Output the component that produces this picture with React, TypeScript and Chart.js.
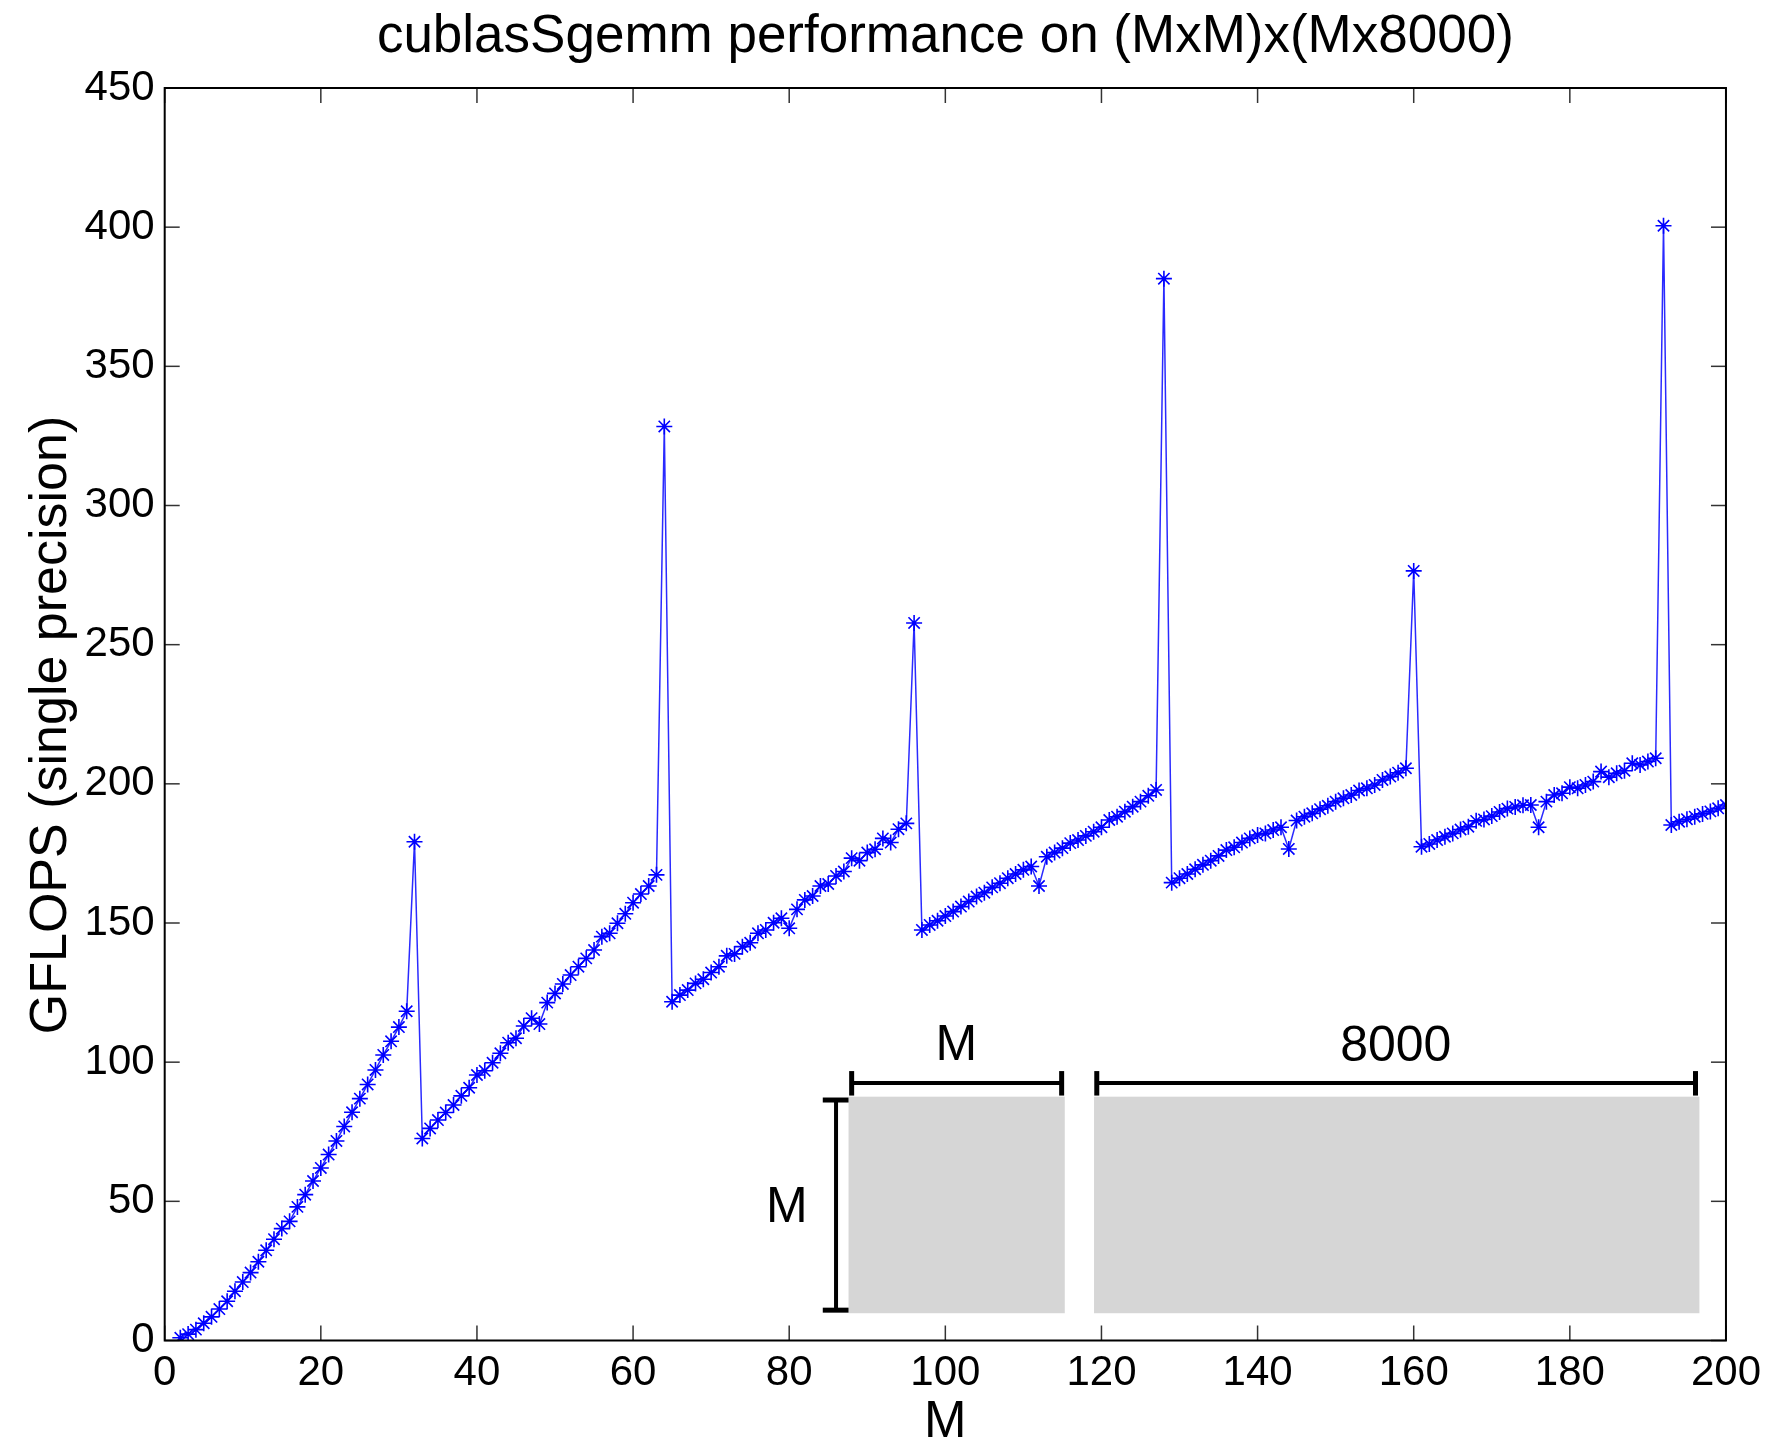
import React, { useEffect, useRef } from "react";
import { Chart, registerables } from "chart.js";

Chart.register(...registerables);

const TITLE = "cublasSgemm performance on (MxM)x(Mx8000)";
const X_LABEL = "M";
const Y_LABEL = "GFLOPS (single precision)";

// Matrix size M (x axis)
const mValues = [
  2, 3, 4, 5, 6, 7, 8, 9, 10, 11, 12, 13, 14, 15, 16, 17, 18, 19, 20,
  21, 22, 23, 24, 25, 26, 27, 28, 29, 30, 31, 32, 33, 34, 35, 36, 37, 38, 39, 40,
  41, 42, 43, 44, 45, 46, 47, 48, 49, 50, 51, 52, 53, 54, 55, 56, 57, 58, 59, 60,
  61, 62, 63, 64, 65, 66, 67, 68, 69, 70, 71, 72, 73, 74, 75, 76, 77, 78, 79, 80,
  81, 82, 83, 84, 85, 86, 87, 88, 89, 90, 91, 92, 93, 94, 95, 96, 97, 98, 99, 100,
  101, 102, 103, 104, 105, 106, 107, 108, 109, 110, 111, 112, 113, 114, 115, 116, 117, 118, 119, 120,
  121, 122, 123, 124, 125, 126, 127, 128, 129, 130, 131, 132, 133, 134, 135, 136, 137, 138, 139, 140,
  141, 142, 143, 144, 145, 146, 147, 148, 149, 150, 151, 152, 153, 154, 155, 156, 157, 158, 159, 160,
  161, 162, 163, 164, 165, 166, 167, 168, 169, 170, 171, 172, 173, 174, 175, 176, 177, 178, 179, 180,
  181, 182, 183, 184, 185, 186, 187, 188, 189, 190, 191, 192, 193, 194, 195, 196, 197, 198, 199, 200,
];

// GFLOPS (single precision), one value per M above
const gflops = [
  // M 2..16
  1, 2.3, 3.9, 6.2, 8.5, 11.3, 14.1, 17.7, 21, 24.4, 28.3, 32.4, 36.4, 40.2, 42.8,
  // M 17..31
  48, 52.4, 57.3, 62, 66.8, 71.7, 76.9, 82, 86.9, 92, 97.2, 102.6, 107.5, 112.6, 118.3,
  // M 32
  179.2,
  // M 33..63
  72.6, 76.2, 79.2, 81.9, 84.6, 87.9, 90.8, 95.4, 96.9, 99.8, 103.2, 107, 108.6, 113, 115.8,
  113.7, 121.4, 124.7, 128.1, 131.3, 134.3, 137.3, 140.3, 145.1, 146.3, 149.9, 153.3, 157.3,
  160.4, 163.3, 167.3,
  // M 64
  328.4,
  // M 65..95
  121.7, 124.1, 125.9, 128.3, 129.8, 132.2, 134.3, 138.2, 138.9, 141.5, 142.9, 146.3, 147.5,
  150.1, 151.7, 148.1, 154.9, 158.3, 159.7, 163.3, 164, 166.9, 168.5, 173.3, 172.4, 175.3,
  176.5, 180.4, 178.9, 183.7, 185.8,
  // M 96
  257.8,
  // M 97..111
  147.5, 149.3, 150.8, 152.5, 154.1, 155.9, 157.7, 159.5, 160.9, 162.8, 164.3, 166.1, 167.6,
  169.1, 170.3,
  // M 112
  163.3,
  // M 113..127
  173.8, 175.3, 176.9, 178.7, 179.8, 181.3, 182.8, 184.4, 187, 188.2, 190, 191.8, 193.6,
  195.7, 197.8,
  // M 128
  381.5,
  // M 129..143
  164.5, 166.1, 167.6, 169.3, 170.9, 172.4, 174.1, 176.2, 177.2, 178.9, 180.4, 181.6, 182.2,
  183.4, 184.4,
  // M 144
  176.6,
  // M 145..159
  186.8, 188.2, 189.4, 190.9, 192.1, 193.6, 194.8, 196, 197.6, 198.4, 199.6, 201.4, 202.6,
  204, 205.6,
  // M 160
  276.5,
  // M 161..175
  177.4, 178.4, 179.8, 181, 182.2, 183.6, 184.6, 186.7, 187.2, 188.4, 189.9, 191.1, 191.7,
  192.3, 192.4,
  // M 176
  184.4,
  // M 177..191
  193.6, 196.0, 196.6, 198.8, 198.4, 199.6, 200.8, 204.4, 202.4, 203.8, 204.7, 207.4, 206.8,
  208.0, 209.2,
  // M 192
  400.5,
  // M 193..200
  185.2, 186.4, 187.3, 188.2, 189.2, 190.1, 191.2, 192.4,
];

const xTicks = [0, 20, 40, 60, 80, 100, 120, 140, 160, 180, 200];
const yTicks = [0, 50, 100, 150, 200, 250, 300, 350, 400, 450];

const FONT = "'Liberation Sans', Arial, Helvetica, sans-serif";

const framePlugin = {
  id: "frameAndText",
  afterDatasetsDraw(chart: any) {
    const { ctx, chartArea, scales } = chart;
    const xs = scales.x;
    const ys = scales.y;
    const px = (v: number) => xs.getPixelForValue(v);
    const py = (v: number) => ys.getPixelForValue(v);
    ctx.save();

    // --- inset diagram (matrix shapes) ---
    ctx.fillStyle = "#d6d6d6";
    ctx.fillRect(px(87.6), py(87.6), px(115.3) - px(87.6), py(9.8) - py(87.6));
    ctx.fillRect(px(119.05), py(87.6), px(196.6) - px(119.05), py(9.8) - py(87.6));

    ctx.strokeStyle = "#000";
    ctx.lineCap = "butt";
    const line = (x1: number, y1: number, x2: number, y2: number, w: number) => {
      ctx.lineWidth = w;
      ctx.beginPath();
      ctx.moveTo(x1, y1);
      ctx.lineTo(x2, y2);
      ctx.stroke();
    };
    // top dimension lines
    const dimY = py(92.5);
    const capTop = py(96.8);
    const capBot = py(88.0);
    line(px(88.0), dimY, px(114.9), dimY, 4);
    line(px(88.0), capTop, px(88.0), capBot, 5);
    line(px(114.9), capTop, px(114.9), capBot, 5);
    line(px(119.4), dimY, px(196.1), dimY, 4);
    line(px(119.4), capTop, px(119.4), capBot, 5);
    line(px(196.1), capTop, px(196.1), capBot, 5);
    // left vertical dimension line
    line(px(86.0), py(86.4), px(86.0), py(10.9), 4);
    line(px(84.3), py(86.4), px(87.6), py(86.4), 5);
    line(px(84.3), py(10.9), px(87.6), py(10.9), 5);

    ctx.fillStyle = "#000";
    ctx.font = `50px ${FONT}`;
    ctx.textAlign = "center";
    ctx.textBaseline = "alphabetic";
    ctx.fillText("M", px(101.4), py(100.8));
    ctx.fillText("8000", px(157.7), py(100.5));
    ctx.fillText("M", px(79.7), py(42.7));

    // --- inward tick marks ---
    const tl = 15;
    ctx.strokeStyle = "#333";
    for (const t of xTicks) {
      const x = px(t);
      line(x, chartArea.bottom, x, chartArea.bottom - tl, 1.5);
      line(x, chartArea.top, x, chartArea.top + tl, 1.5);
    }
    for (const t of yTicks) {
      const y = py(t);
      line(chartArea.left, y, chartArea.left + tl, y, 1.5);
      line(chartArea.right, y, chartArea.right - tl, y, 1.5);
    }

    // --- box ---
    ctx.strokeStyle = "#000";
    ctx.lineWidth = 2;
    ctx.strokeRect(
      chartArea.left,
      chartArea.top,
      chartArea.right - chartArea.left,
      chartArea.bottom - chartArea.top
    );

    // --- title and axis labels ---
    const cx = (chartArea.left + chartArea.right) / 2;
    ctx.fillStyle = "#000";
    ctx.textAlign = "center";
    ctx.textBaseline = "alphabetic";
    ctx.font = `53px ${FONT}`;
    ctx.fillText(TITLE, cx, 52);

    ctx.font = `51px ${FONT}`;
    ctx.fillText(X_LABEL, cx, 1437);

    ctx.save();
    ctx.translate(66, 725);
    ctx.rotate(-Math.PI / 2);
    ctx.font = `52px ${FONT}`;
    ctx.fillText(Y_LABEL, 0, 0);
    ctx.restore();

    ctx.restore();
  },
};

export default function App() {
  const canvasRef = useRef<HTMLCanvasElement | null>(null);

  useEffect(() => {
    document.body.style.margin = "0";
    const canvas = canvasRef.current;
    if (!canvas) return;
    const points = mValues.map((m, i) => ({ x: m, y: gflops[i] }));
    const chart = new Chart(canvas, {
      type: "line",
      data: {
        datasets: [
          {
            data: points,
            borderColor: "#2a2aff",
            borderWidth: 1.5,
            pointStyle: "star",
            pointRadius: 8,
            pointBorderWidth: 1.6,
            pointBorderColor: "#0000ff",
            pointBackgroundColor: "#0000ff",
            tension: 0,
            fill: false,
          },
        ],
      },
      options: {
        responsive: false,
        animation: false,
        devicePixelRatio: 1,
        layout: { padding: { top: 88, right: 41.4, left: 0, bottom: 0 } },
        plugins: {
          legend: { display: false },
          tooltip: { enabled: false },
          title: { display: false },
        },
        scales: {
          x: {
            type: "linear",
            min: 0,
            max: 200,
            afterBuildTicks: (scale: any) => {
              scale.ticks = xTicks.map((v) => ({ value: v }));
            },
            afterFit: (scale: any) => {
              scale.height = 100.5;
            },
            grid: { display: false, drawTicks: false },
            border: { display: false },
            ticks: {
              padding: 8,
              color: "#000",
              maxRotation: 0,
              autoSkip: false,
              font: { family: FONT, size: 42 },
            },
          },
          y: {
            type: "linear",
            min: 0,
            max: 450,
            afterBuildTicks: (scale: any) => {
              scale.ticks = yTicks.map((v) => ({ value: v }));
            },
            afterFit: (scale: any) => {
              scale.width = 164.7;
            },
            grid: { display: false, drawTicks: false },
            border: { display: false },
            ticks: {
              padding: 10,
              color: "#000",
              autoSkip: false,
              font: { family: FONT, size: 42 },
            },
          },
        },
      },
      plugins: [framePlugin],
    });
    return () => chart.destroy();
  }, []);

  return (
    <div style={{ width: 1769, height: 1441, background: "#fff" }}>
      <canvas ref={canvasRef} width={1769} height={1441} style={{ display: "block" }} />
    </div>
  );
}
